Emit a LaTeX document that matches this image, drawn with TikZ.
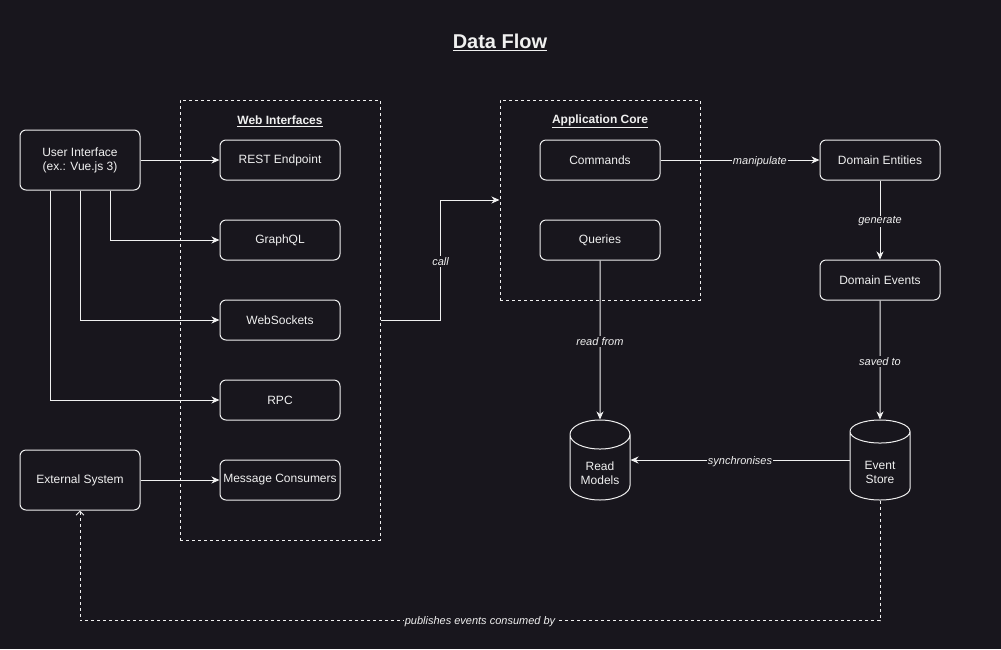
\documentclass[tikz,border=0pt]{standalone}
\usepackage{fontspec}
\setmainfont{Liberation Sans}
\usetikzlibrary{arrows.meta,shapes.geometric}
\definecolor{bg}{RGB}{24,22,29}
\definecolor{fg}{RGB}{240,240,240}
\newcommand{\dbtext}[2]{\raisebox{-10.5pt}[0pt][0pt]{\begin{tabular}{@{}c@{}}#1\\#2\end{tabular}}}
\begin{document}
\begin{tikzpicture}[x=1pt, y=-1pt,
    box/.style={draw=fg, line width=1pt, rounded corners=6pt, minimum width=120pt, minimum height=40pt, inner sep=0pt, text=fg, font=\fontsize{12}{14}\selectfont, align=center},
    group/.style={draw=fg, line width=1pt, dash pattern=on 3pt off 3pt, minimum width=200pt, inner sep=0pt},
    grouptitle/.style={text=fg, font=\bfseries\fontsize{12}{14}\selectfont},
    db/.style={draw=fg, line width=1pt, cylinder, shape border rotate=90, aspect=0.75, minimum width=60pt, minimum height=80pt, inner sep=0pt, text=fg, font=\fontsize{12}{14}\selectfont, anchor=shape center},
    arr/.style={draw=fg, line width=1pt, -{Stealth[length=8pt, width=7pt, inset=2.5pt]}},
    lbl/.style={fill=bg, text=fg, inner sep=1pt, yshift=-1.5pt, font=\itshape\fontsize{11}{13}\selectfont}]
    \fill[bg] (0,0) rectangle (1001,649);

    \node[text=fg, font=\bfseries\fontsize{20}{24}\selectfont] (title) at (500,42) {\underline{Data Flow}};

    \node[group, minimum height=440pt] (web) at (280,320) {};
    \node[grouptitle] (webttl) at (280,121) {\underline{Web Interfaces}};
    \node[group, minimum height=200pt] (app) at (600,200) {};
    \node[grouptitle] (appttl) at (600,121) {\underline{Application Core}};

    \node[box, minimum height=60pt] (ui) at (80,160) {User Interface\\(ex.: Vue.js 3)};
    \node[box, minimum height=60pt] (ext) at (80,480) {External System};

    \node[box] (rest) at (280,160) {REST Endpoint};
    \node[box] (gql) at (280,240) {GraphQL};
    \node[box] (ws) at (280,320) {WebSockets};
    \node[box] (rpc) at (280,400) {RPC};
    \node[box] (msg) at (280,480) {Message Consumers};

    \node[box] (cmd) at (600,160) {Commands};
    \node[box] (qry) at (600,240) {Queries};
    \node[box] (ent) at (880,160) {Domain Entities};
    \node[box] (evt) at (880,280) {Domain Events};

    \node[db] (read) at (600,460) {\dbtext{Read}{Models}};
    \node[db] (store) at (880,460) {\dbtext{Event}{Store}};

    \draw[arr] (ui) -- (rest);
    \draw[arr] ([xshift=30pt]ui.south) |- (gql);
    \draw[arr] (ui.south) |- (ws);
    \draw[arr] ([xshift=-30pt]ui.south) |- (rpc);
    \draw[arr] (ext) -- (msg);

    \draw[arr] (ws -| web.east) -- ++(60,0) |- node[lbl, pos=0.25] {call} (app.west);
    \draw[arr] (cmd) -- node[lbl, pos=0.625] {manipulate} (ent);
    \draw[arr] (ent) -- node[lbl] {generate} (evt);
    \draw[arr] (evt) -- node[lbl] {saved to} (store);
    \draw[arr] (qry) -- node[lbl] {read from} (read);
    \draw[arr] (store.west |- store.shape center) -- node[lbl] {synchronises} (read.east |- read.shape center);

    \draw[draw=fg, line width=1pt, dash pattern=on 3pt off 3pt, -{Straight Barb[length=4pt, width=8pt]}]
      (store.south) -- ++(0,120) -| node[lbl, pos=0.25] {publishes events consumed by} (ext.south);
\end{tikzpicture}
\end{document}
